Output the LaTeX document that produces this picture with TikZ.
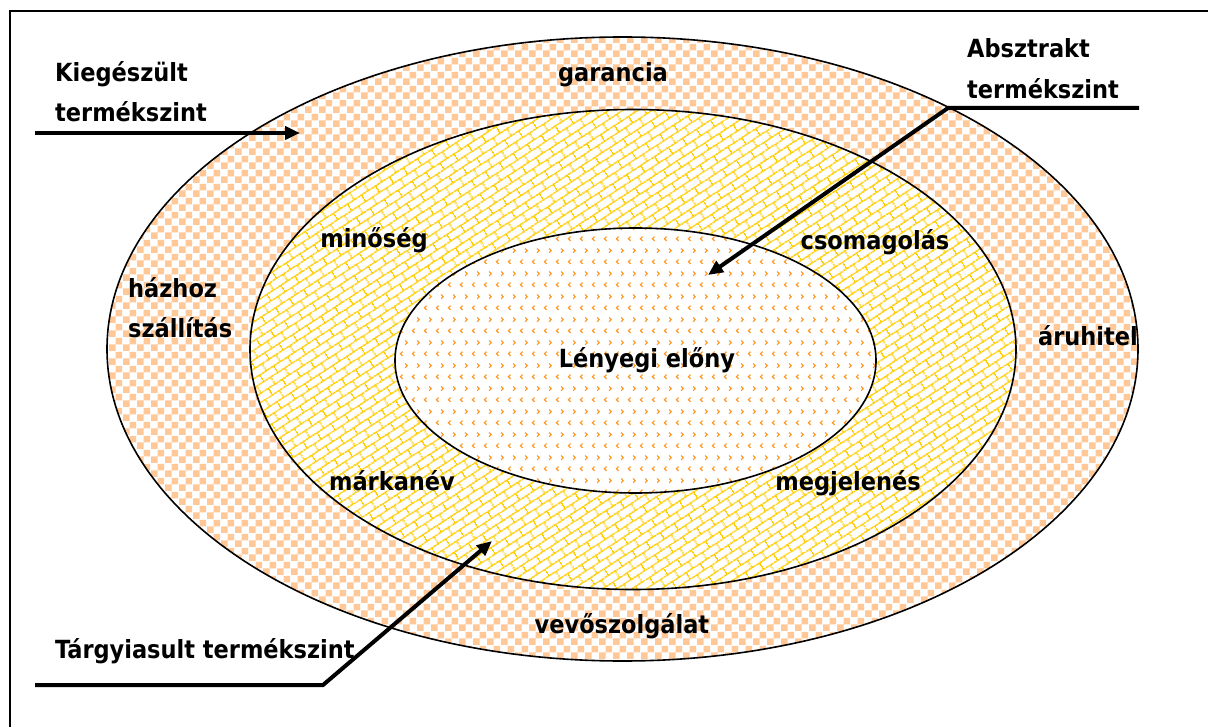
\documentclass[tikz,border=0pt]{standalone}
\usepackage{fontspec}
\setmainfont{DejaVu Sans Condensed}
\usetikzlibrary{patterns.meta,arrows.meta}

\definecolor{peach}{RGB}{255,200,150}
\definecolor{brickgold}{RGB}{255,204,0}
\definecolor{chevorange}{RGB}{255,150,30}

% outer ring: checkerboard
\tikzdeclarepattern{
  name=checkers, type=uncolored,
  bounding box={(0pt,0pt) and (13.6pt,13.6pt)},
  tile size={(13.6pt,13.6pt)},
  code={\fill (0pt,0pt) rectangle (6.8pt,6.8pt) (6.8pt,6.8pt) rectangle (13.6pt,13.6pt);}
}
% middle ring: slanted brick wall
\tikzdeclarepattern{
  name=bricks, type=uncolored,
  bounding box={(0pt,0pt) and (17pt,15.4pt)},
  tile size={(17pt,15.4pt)},
  tile transformation={rotate=33},
  code={
    \draw[line width=1.4pt] (0pt,3.85pt) -- (17pt,3.85pt) (0pt,11.55pt) -- (17pt,11.55pt)
      (4.25pt,3.85pt) -- (4.25pt,11.55pt) (12.75pt,11.55pt) -- (12.75pt,15.4pt)
      (12.75pt,0pt) -- (12.75pt,3.85pt);
  }
}
% core: small chevrons
\tikzdeclarepattern{
  name=chevrons, type=uncolored,
  bounding box={(0pt,0pt) and (11.7pt,23pt)},
  tile size={(11.7pt,23pt)},
  code={
    \draw[line width=1.2pt] (4.7pt,7.7pt) -- (2.5pt,5.5pt) -- (4.7pt,3.3pt)
      (7.3pt,19.2pt) -- (9.5pt,17pt) -- (7.3pt,14.8pt);
  }
}

\begin{document}
\begin{tikzpicture}[x=1pt,y=-1pt,
  lbl/.style={font=\fontsize{25}{40}\selectfont\bfseries, inner sep=0pt},
  ring/.style={draw=black, line width=1.6pt},
  lead/.style={line width=4pt, line join=miter, -{Triangle[length=15pt,width=13pt]}}]
\useasboundingbox (0,0) rectangle (1208,727);
\clip (0,0) rectangle (1208,727);

% frame
\draw[line width=2pt] (10,11) rectangle (1240,760);

% the three levels
\path[ring, preaction={fill=white}, pattern=checkers, pattern color=peach]
  (622.5,349) ellipse [x radius=515.5pt, y radius=312pt];
\path[ring, preaction={fill=white}, pattern=bricks, pattern color=brickgold]
  (633,349.5) ellipse [x radius=383pt, y radius=240pt];
\path[ring, preaction={fill=white}, pattern=chevrons, pattern color=chevorange]
  (635.5,360.5) ellipse [x radius=240.5pt, y radius=132.5pt];

% ring labels
\node[lbl, anchor=base] (garancia) at (613,82) {garancia};
\node[lbl, anchor=base west] (hazhoz) at (128,298) {házhoz};
\node[lbl, anchor=base west] (szallitas) at (128,338) {szállítás};
\node[lbl, anchor=base] (aruhitel) at (1088,346) {áruhitel};
\node[lbl, anchor=base] (vevo) at (622,633) {vevőszolgálat};
\node[lbl, anchor=base] (minoseg) at (374,248) {minőség};
\node[lbl, anchor=base] (csomag) at (875,250) {csomagolás};
\node[lbl, anchor=base] (marka) at (392,490) {márkanév};
\node[lbl, anchor=base] (megjel) at (848,490) {megjelenés};
\node[lbl, anchor=base] (lenyeg) at (647,368) {Lényegi előny};

% level titles
\node[lbl, anchor=base west] (kieg1) at (55,82) {Kiegészült};
\node[lbl, anchor=base west] (kieg2) at (55,122) {termékszint};
\node[lbl, anchor=base west] (abs1) at (967,58) {Absztrakt};
\node[lbl, anchor=base west] (abs2) at (967,99) {termékszint};
\node[lbl, anchor=base west] (targy) at (55,658) {Tárgyiasult termékszint};

% pointers
\coordinate (kiegStart) at (35,133);
\coordinate (kiegTip) at (300,133);
\coordinate (absStart) at (1139,108);
\coordinate (absBend) at (948,108);
\coordinate (absTip) at (708,275);
\coordinate (targyStart) at (35,685);
\coordinate (targyBend) at (323,685);
\coordinate (targyTip) at (492,541);

\draw[lead] (kiegStart) -- (kiegTip);
\draw[lead] (absStart) -- (absBend) -- (absTip);
\draw[lead] (targyStart) -- (targyBend) -- (targyTip);
\end{tikzpicture}
\end{document}
